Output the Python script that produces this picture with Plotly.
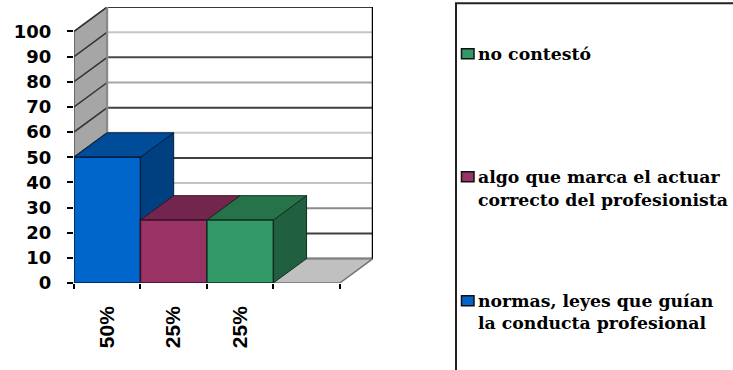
import plotly.graph_objects as go

# datos del grafico
bar_values = [50, 25, 25, 0]
bar_labels = ['50%', '25%', '25%', '']
bar_names = ['normas, leyes que guían la conducta profesional',
             'algo que marca el actuar correcto del profesionista',
             'no contestó']
front_colors = ['#0066CC', '#993366', '#339966']
top_colors = ['#004C99', '#73264D', '#267349']
side_colors = ['#003F80', '#5C1F3E', '#206040']
edge_colors = ['#001F40', '#3A1026', '#0F3020']
y_levels = [0, 10, 20, 30, 40, 50, 60, 70, 80, 90, 100]
grid_colors = ['#808080', '#404040', '#8C8C8C', '#C4C4C4', '#404040', '#C8C8C8',
               '#404040', '#A6A6A6', '#484848', '#C4C4C4', '#383838']
legend_lines = [('no contestó', ), ('algo que marca el actuar', 'correcto del profesionista'),
                ('normas, leyes que guían', 'la conducta profesional')]
legend_colors = ['#339966', '#993366', '#0066CC']

# tamano del area de trazado y profundidad 3D
W, H = 733, 370
L, R, T, B = 74, 360, 7.3, 86.7
DX = 0.5
DY = 9.7


def px(x):
    return (x - L) / (W - L - R)


def py(y):
    return 1 - (y - T) / (H - T - B)


def poly(xs, ys, fill, line='#222222', width=1):
    return go.Scatter(x=xs, y=ys, mode='lines', fill='toself', fillcolor=fill,
                      line=dict(color=line, width=width), hoverinfo='skip', showlegend=False)


fig = go.Figure()

# paredes y piso
fig.add_trace(poly([-0.5, 0, 0, -0.5, -0.5], [0, DY, 100 + DY, 100, 0], '#A6A6A6', '#555555', 1.5))
fig.add_trace(poly([-0.5, 3.5, 3.5 + DX, DX - 0.5, -0.5], [0, 0, DY, DY, 0], '#C0C0C0', '#707070', 1.5))

# lineas de rejilla en pared lateral y fondo
for level, shade in zip(y_levels, grid_colors):
    fig.add_trace(go.Scatter(x=[0, 3.5 + DX], y=[level + DY, level + DY], mode='lines',
                             line=dict(color=shade, width=2), hoverinfo='skip', showlegend=False))
    if level > 0:
        fig.add_trace(go.Scatter(x=[-0.5, 0], y=[level, level + DY], mode='lines',
                                 line=dict(color='#333333', width=1.5), hoverinfo='skip', showlegend=False))
fig.add_trace(go.Scatter(x=[0, 0], y=[DY, 100 + DY], mode='lines',
                         line=dict(color='#8C8C8C', width=2), hoverinfo='skip', showlegend=False))
fig.add_trace(go.Scatter(x=[3.5 + DX, 3.5 + DX], y=[DY, 100 + DY], mode='lines',
                         line=dict(color='#000000', width=2.5), hoverinfo='skip', showlegend=False))

# caras superior y lateral de cada barra
for i, v in enumerate(bar_values[:3]):
    x0, x1 = i - 0.5, i + 0.5
    fig.add_trace(poly([x1, x1 + DX, x1 + DX, x1, x1], [0, DY, v + DY, v, 0], side_colors[i], edge_colors[i]))
    fig.add_trace(poly([x0, x1, x1 + DX, x0 + DX, x0], [v, v, v + DY, v + DY, v], top_colors[i], edge_colors[i]))

# caras frontales en ejes superpuestos para que queden encima
for i, v in enumerate(bar_values[:3]):
    fig.add_trace(go.Bar(x=[i], y=[v], width=1, name=bar_names[i], xaxis='x2', yaxis='y2',
                         marker=dict(color=front_colors[i], line=dict(color=edge_colors[i], width=1.5)),
                         showlegend=False))

shapes = [dict(type='path', xref='paper', yref='paper', line=dict(color='#222222', width=2),
               path=f'M {px(456)} {py(371)} L {px(456)} {py(3.5)} L {px(734)} {py(3.5)}')]
annotations = []

# leyenda dibujada a mano, igual que el cuadro del original
legend_y = [[54], [177, 200], [301, 323]]
for lines, ys, color in zip(legend_lines, legend_y, legend_colors):
    shapes.append(dict(type='rect', xref='paper', yref='paper', x0=px(461.5), x1=px(474),
                       y0=py(ys[0] - 5), y1=py(ys[0] + 5), fillcolor=color,
                       line=dict(color='#111111', width=1.5)))
    for text, y in zip(lines, ys):
        annotations.append(dict(text=text, xref='paper', yref='paper', x=px(477), y=py(y), xanchor='left',
                                yanchor='middle', showarrow=False, borderpad=0,
                                font=dict(family='DejaVu Serif', size=17.3, color='#000000', weight='bold')))

fig.update_layout(
    width=W, height=H,
    autosize=False,
    margin=dict(l=L, r=R, t=T, b=B),
    paper_bgcolor='white', plot_bgcolor='white',
    showlegend=False,
    barmode='overlay',
    shapes=shapes,
    annotations=annotations,
    xaxis=dict(range=[-0.5, 3.5 + DX], tickvals=list(range(len(bar_labels))), ticktext=bar_labels,
               tickangle=-90, ticks='', showgrid=False, zeroline=False, showline=False,
               ticklabelstandoff=18,
               tickfont=dict(family='Liberation Sans', size=21, color='#000000', weight='bold'),
               minor=dict(tickvals=[-0.5, 0.5, 1.5, 2.5, 3.5], ticks='outside', ticklen=5, tickwidth=1.5,
                          tickcolor='#000000', showgrid=False)),
    yaxis=dict(range=[0, 100 + DY], tickvals=y_levels, ticks='outside', ticklen=6, tickwidth=1.5,
               tickcolor='#000000', showgrid=False, zeroline=False, showline=False,
               ticklabelstandoff=12,
               tickfont=dict(family='DejaVu Sans', size=18, color='#000000', weight='bold')),
    xaxis2=dict(range=[-0.5, 3.5 + DX], overlaying='x', visible=False),
    yaxis2=dict(range=[0, 100 + DY], overlaying='y', visible=False),
)

# sin margen del body para que la figura llene la ventana
fig.write_html("out.html", config=dict(displayModeBar=False),
               post_script="document.body.style.margin='0';document.body.style.overflow='hidden';")
